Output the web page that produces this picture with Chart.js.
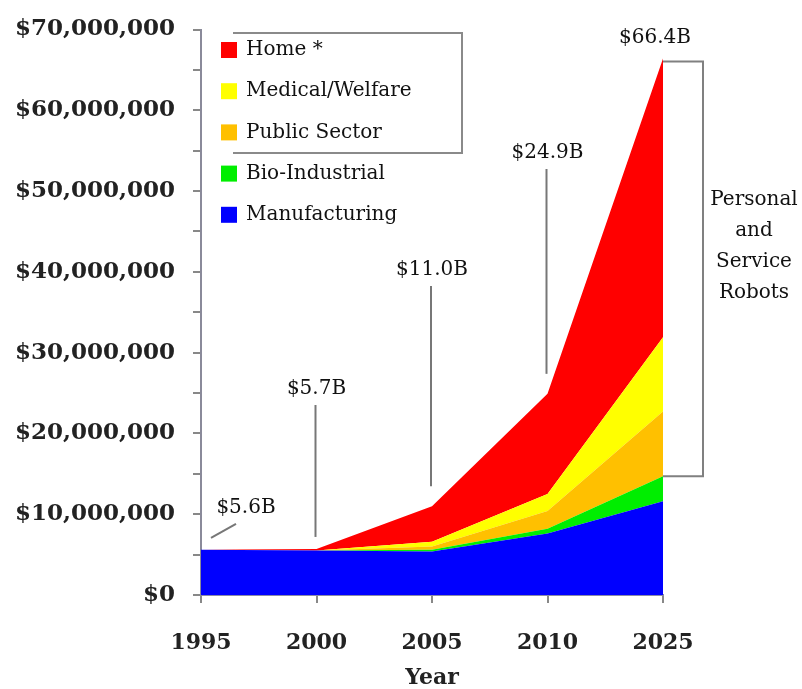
<!DOCTYPE html>
<html lang="en">
<head>
    <meta charset="UTF-8">
    <title>Robot Market</title>
    <script src="https://cdn.jsdelivr.net/npm/chart.js"></script>
    <style>
        body {
            margin: 0;
            background-color: #ffffff;
        }
        #wrap {
            width: 802px;
            height: 689px;
        }
    </style>
</head>
<body>
    <div id="wrap"><canvas id="robotChart" width="802" height="689"></canvas></div>

    <script>
        const years = ['1995', '2000', '2005', '2010', '2025'];
        const manufacturing = [5600000, 5500000, 5400000, 7600000, 11600000];
        const bioIndustrial = [0, 0, 200000, 600000, 3100000];
        const publicSector = [0, 0, 400000, 2200000, 8000000];
        const medicalWelfare = [0, 0, 600000, 2100000, 9200000];
        const home = [0, 200000, 4400000, 12400000, 34500000];
        const totalLabels = ['$5.6B', '$5.7B', '$11.0B', '$24.9B', '$66.4B'];

        const SERIF = '"DejaVu Serif", "Liberation Serif", serif';

        // bottom-up stacking order, legend draws top-down
        const series = [
            { label: 'Manufacturing', data: manufacturing, color: '#0000ff' },
            { label: 'Bio-Industrial', data: bioIndustrial, color: '#00ee00' },
            { label: 'Public Sector', data: publicSector, color: '#ffc000' },
            { label: 'Medical/Welfare', data: medicalWelfare, color: '#ffff00' },
            { label: 'Home *', data: home, color: '#ff0000' }
        ];

        const overlay = {
            id: 'overlay',
            afterDraw(chart) {
                const ctx = chart.ctx;
                const x = chart.scales.x;
                const y = chart.scales.y;
                const area = chart.chartArea;
                ctx.save();

                // legend
                const rows = series.slice().reverse();
                ctx.font = '20px ' + SERIF;
                ctx.textBaseline = 'middle';
                ctx.textAlign = 'left';
                rows.forEach((s, i) => {
                    const cy = 50 + i * 41.2;
                    ctx.fillStyle = s.color;
                    ctx.fillRect(area.left + 20, cy - 8, 16, 16);
                    ctx.fillStyle = '#111';
                    ctx.fillText(s.label, area.left + 45, cy);
                });
                ctx.strokeStyle = '#8a8a8a';
                ctx.lineWidth = 2;
                ctx.beginPath();
                ctx.moveTo(area.left + 32, 33);
                ctx.lineTo(462, 33);
                ctx.lineTo(462, 153);
                ctx.lineTo(area.left + 32, 153);
                ctx.stroke();

                // totals
                const totals = years.map((_, i) => series.reduce((a, s) => a + s.data[i], 0));
                ctx.strokeStyle = '#777';
                ctx.lineWidth = 2;
                ctx.fillStyle = '#111';
                ctx.textAlign = 'center';
                ctx.font = '20px ' + SERIF;

                // 1995 small leader
                const p0 = y.getPixelForValue(totals[0]);
                ctx.beginPath();
                ctx.moveTo(x.getPixelForValue(0) + 10, p0 - 12);
                ctx.lineTo(x.getPixelForValue(0) + 35, p0 - 26);
                ctx.stroke();
                ctx.fillText(totalLabels[0], x.getPixelForValue(0) + 45, p0 - 42);

                const labelY = [null, 389, 270, 153, 38];
                for (let i = 1; i < years.length; i++) {
                    const px = x.getPixelForValue(i);
                    const top = y.getPixelForValue(totals[i]);
                    if (i < years.length - 1) {
                        ctx.beginPath();
                        ctx.moveTo(px - 1, labelY[i] + 16);
                        ctx.lineTo(px - 1, top - 12 - (i > 1 ? 8 : 0));
                        ctx.stroke();
                        ctx.fillText(totalLabels[i], px, labelY[i]);
                    } else {
                        ctx.fillText(totalLabels[i], px - 8, labelY[i]);
                    }
                }

                // bracket for personal & service robots
                const last = years.length - 1;
                const bx = x.getPixelForValue(last);
                const bTop = y.getPixelForValue(totals[last]) + 3;
                const bBot = y.getPixelForValue(manufacturing[last] + bioIndustrial[last]);
                ctx.strokeStyle = '#808080';
                ctx.beginPath();
                ctx.moveTo(bx, bTop);
                ctx.lineTo(bx + 40, bTop);
                ctx.lineTo(bx + 40, bBot);
                ctx.lineTo(bx, bBot);
                ctx.stroke();

                ctx.font = '20px ' + SERIF;
                ctx.fillStyle = '#111';
                ['Personal', 'and', 'Service', 'Robots'].forEach((t, i) => {
                    ctx.fillText(t, 754, 200 + i * 31);
                });
                ctx.restore();
            }
        };

        function renderChart() {
            const ctx = document.getElementById('robotChart').getContext('2d');
            new Chart(ctx, {
                type: 'line',
                data: {
                    labels: years,
                    datasets: series.map((s, i) => ({
                        label: s.label,
                        data: s.data,
                        backgroundColor: s.color,
                        borderColor: s.color,
                        borderWidth: 0,
                        pointRadius: 0,
                        tension: 0,
                        fill: i === 0 ? 'origin' : '-1'
                    }))
                },
                options: {
                    responsive: false,
                    animation: false,
                    layout: {
                        padding: { top: 13, right: 139, bottom: 0, left: 0 }
                    },
                    scales: {
                        x: {
                            offset: false,
                            afterFit(scale) { scale.height = 94; },
                            grid: { drawOnChartArea: false, tickLength: 8, color: '#888', lineWidth: 2 },
                            border: { color: '#8a8aa8', width: 2 },
                            ticks: {
                                color: '#222',
                                padding: 27,
                                font: { family: SERIF, size: 22, weight: 'bold' }
                            },
                            title: {
                                display: true,
                                text: 'Year',
                                color: '#222',
                                padding: { top: 0, bottom: 0 },
                                font: { family: SERIF, size: 22, weight: 'bold', lineHeight: 1 }
                            }
                        },
                        y: {
                            stacked: true,
                            min: 0,
                            max: 70000000,
                            afterFit(scale) { scale.width = 201; },
                            grid: { drawOnChartArea: false, tickLength: 8, color: '#888', lineWidth: 2 },
                            border: { color: '#8a8a9a', width: 2 },
                            ticks: {
                                stepSize: 5000000,
                                color: '#222',
                                padding: 18,
                                font: { family: SERIF, size: 23, weight: 'bold', lineHeight: 1 },
                                callback: v => v % 10000000 === 0 ? '$' + v.toLocaleString('en-US') : ''
                            }
                        }
                    },
                    plugins: {
                        legend: { display: false },
                        tooltip: { enabled: false }
                    }
                },
                plugins: [overlay]
            });
        }

        renderChart();
    </script>
</body>
</html>
